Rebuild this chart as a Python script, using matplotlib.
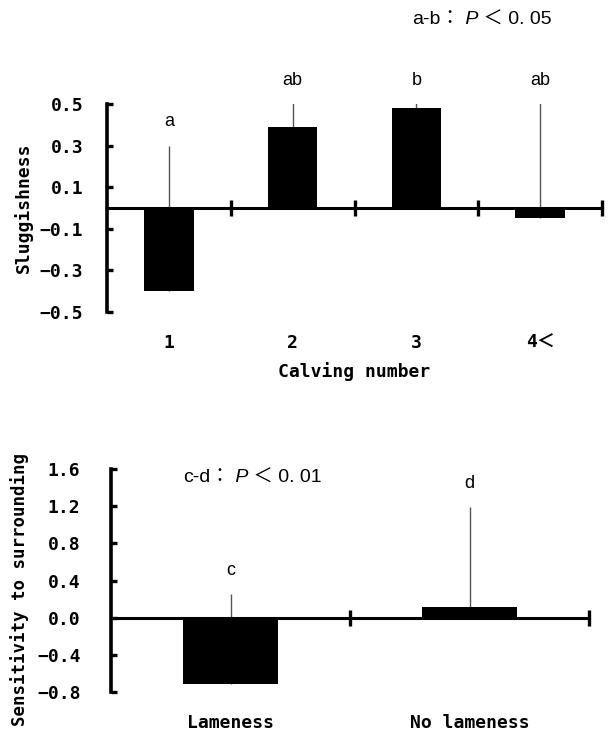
import matplotlib
matplotlib.use("Agg")
import matplotlib.pyplot as plt
from matplotlib.transforms import blended_transform_factory

# upper panel: sluggishness by calving number
calving = ["1", "2", "3", "4＜"]
sluggish = [-0.40, 0.39, 0.48, -0.05]
sluggish_err = [0.70, 0.13, 0.04, 0.58]
sluggish_sig = ["a", "ab", "b", "ab"]
sluggish_ticks = [-0.5, -0.3, -0.1, 0.1, 0.3, 0.5]

# lower panel: sensitivity to surrounding by lameness
lameness = ["Lameness", "No lameness"]
sensitivity = [-0.71, 0.11]
sensitivity_err = [0.96, 1.08]
sensitivity_sig = ["c", "d"]
sensitivity_ticks = [-0.8, -0.4, 0.0, 0.4, 0.8, 1.2, 1.6]

MONO = ["DejaVu Sans Mono", "Noto Sans CJK JP"]
SANS = ["Liberation Sans", "Noto Sans CJK JP"]
W, H = 608, 733


def panel(ax, cats, vals, errs, sig, ticks, pad):
    n = len(cats)
    x = [i + 0.5 for i in range(n)]
    ax.errorbar(x, vals, yerr=[[0] * n, errs], fmt="none", ecolor="#555555",
                elinewidth=1, capsize=0, zorder=1)
    ax.bar(x, vals, width=0.4, color="black", zorder=2)
    ax.set_xlim(0, n)
    ax.set_ylim(ticks[0], ticks[-1])

    ax.spines["top"].set_visible(False)
    ax.spines["right"].set_visible(False)
    ax.spines["left"].set_linewidth(2.6)
    ax.spines["bottom"].set_position(("data", 0))
    ax.spines["bottom"].set_linewidth(2.2)
    ax.spines["bottom"].set_zorder(3)

    ax.set_yticks(ticks)
    ax.set_yticklabels([f"{t:.1f}".replace("-", "−") for t in ticks],
                       family=MONO, fontsize=13, fontweight="bold")
    ax.tick_params(axis="y", direction="in", length=4, width=2.4, pad=pad)
    ax.set_xticks(range(1, n + 1))
    ax.tick_params(axis="x", direction="inout", length=12, width=2.4,
                   labelbottom=False)

    trans = blended_transform_factory(ax.transData, ax.transAxes)
    for xi, c in zip(x, cats):
        ax.annotate(c, xy=(xi, 0), xycoords=trans, xytext=(0, -22),
                    textcoords="offset points", ha="center", va="center",
                    family=MONO, fontsize=13, fontweight="bold",
                    annotation_clip=False)

    for xi, v, e, s in zip(x, vals, errs, sig):
        top = min(v + e, ticks[-1])
        ax.annotate(s, xy=(xi, top), xytext=(0, 17), textcoords="offset points",
                    ha="center", va="center", family=SANS, fontsize=13,
                    annotation_clip=False)


def p_note(ax, x, y, pair, p):
    t1 = ax.figure.text(x / W, 1 - y / H, pair + "：", family=SANS,
                        fontsize=14, ha="left", va="center")
    t2 = ax.annotate(" P", xy=(1, 0.5), xycoords=t1, ha="left", va="center",
                     family=SANS, fontsize=14, style="italic",
                     annotation_clip=False)
    ax.annotate(" ＜ " + p, xy=(1, 0.5), xycoords=t2, ha="left", va="center",
                family=SANS, fontsize=14, annotation_clip=False)


fig = plt.figure(figsize=(W / 100, H / 100), dpi=100)

ax1 = fig.add_axes([107 / W, 1 - 312 / H, 495 / W, 208 / H])
panel(ax1, calving, sluggish, sluggish_err, sluggish_sig, sluggish_ticks, 17)
ax1.annotate("Calving number", xy=(0.5, 0), xycoords="axes fraction",
             xytext=(0, -43), textcoords="offset points", ha="center",
             va="center", family=MONO, fontsize=13, fontweight="bold",
             annotation_clip=False)
fig.text(23 / W, 1 - 208 / H, "Sluggishness", rotation=90, ha="center",
         va="center", family=MONO, fontsize=13, fontweight="bold")
p_note(ax1, 412, 20, "a-b", "0. 05")

ax2 = fig.add_axes([111 / W, 1 - 692 / H, 478 / W, 223 / H])
panel(ax2, lameness, sensitivity, sensitivity_err, sensitivity_sig,
      sensitivity_ticks, 22)
fig.text(20 / W, 1 - 589 / H, "Sensitivity to surrounding", rotation=90,
         ha="center", va="center", family=MONO, fontsize=12.5,
         fontweight="bold")
p_note(ax2, 183, 478, "c-d", "0. 01")

fig.savefig("out.png", dpi=100)
